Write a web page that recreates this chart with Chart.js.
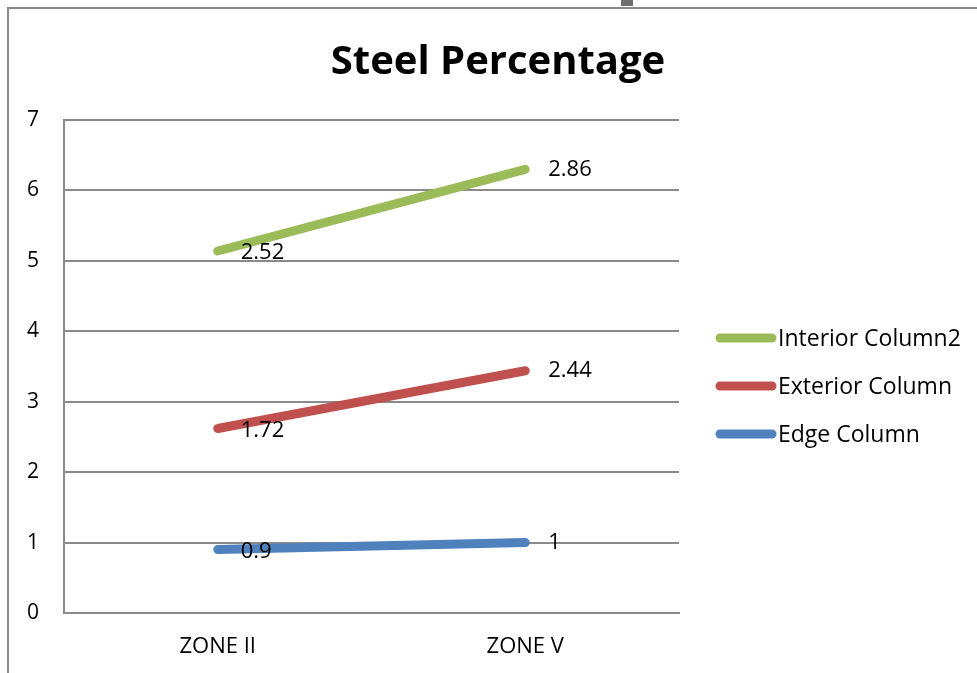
<!DOCTYPE html>
<html>
<head>
<meta charset="utf-8">
<script src="https://cdn.jsdelivr.net/npm/chart.js@4/dist/chart.umd.min.js"></script>
<style>
  html, body { margin: 0; padding: 0; background: #fff; }
  #wrap { position: relative; width: 977px; height: 673px; overflow: hidden; }
  #frame { position: absolute; left: 7px; top: 7px; width: 990px; height: 700px;
           border-left: 2px solid #8a8a8a; border-top: 2px solid #8a8a8a; }
  #mark { position: absolute; left: 621px; top: 0px; width: 12px; height: 6px; background: #6e6e6e; }
  canvas { position: absolute; left: 0; top: 0; }
</style>
</head>
<body>
<div id="wrap">
  <div id="frame"></div>
  <div id="mark"></div>
  <canvas id="c" width="977" height="673"></canvas>
</div>
<script>
const chartTitle = "Steel Percentage";
const categories = ["ZONE II", "ZONE V"];
const seriesNames = ["Edge Column", "Exterior Column", "Interior Column2"];
const edgeColumn = [0.9, 1];
const exteriorColumn = [1.72, 2.44];
const interiorColumn2 = [2.52, 2.86];
const yTicks = [0, 1, 2, 3, 4, 5, 6, 7];
const colors = ["#4F81BD", "#C0504D", "#9BBB59"];

const FONT = "'Open Sans', 'Noto Sans', sans-serif";

const titlePlugin = {
  id: 'titlePlugin',
  afterDraw(chart) {
    const ctx = chart.ctx;
    ctx.save();
    ctx.font = "bold 40px " + FONT;
    ctx.fillStyle = "#000";
    ctx.textAlign = "center";
    ctx.textBaseline = "alphabetic";
    ctx.fillText(chartTitle, 498, 74);
    ctx.restore();
  }
};

const valueLabels = {
  id: 'valueLabels',
  afterDatasetsDraw(chart) {
    const ctx = chart.ctx;
    ctx.save();
    ctx.font = "22px " + FONT;
    ctx.fillStyle = "#000";
    ctx.textAlign = "left";
    ctx.textBaseline = "middle";
    chart.data.datasets.forEach((ds, di) => {
      const meta = chart.getDatasetMeta(di);
      meta.data.forEach((pt, i) => {
        ctx.fillText(String(ds.data[i]), pt.x + 23, pt.y + (i === 0 ? 2 : 0));
      });
    });
    ctx.restore();
  }
};

const sideLegend = {
  id: 'sideLegend',
  afterDraw(chart) {
    const ctx = chart.ctx;
    ctx.save();
    ctx.font = "23px " + FONT;
    ctx.textBaseline = "middle";
    ctx.textAlign = "left";
    const n = chart.data.datasets.length;
    const x0 = 720, x1 = 772, top = 338, step = 48;
    for (let k = 0; k < n; k++) {
      const di = n - 1 - k;
      const ds = chart.data.datasets[di];
      const y = top + k * step;
      ctx.strokeStyle = ds.borderColor;
      ctx.lineWidth = 9;
      ctx.lineCap = "round";
      ctx.beginPath();
      ctx.moveTo(x0, y);
      ctx.lineTo(x1, y);
      ctx.stroke();
      ctx.fillStyle = "#000";
      ctx.fillText(ds.label, 778, y + 1);
    }
    ctx.restore();
  }
};

new Chart(document.getElementById('c'), {
  type: 'line',
  data: {
    labels: categories,
    datasets: [
      { label: seriesNames[0], data: edgeColumn, borderColor: colors[0], backgroundColor: colors[0] },
      { label: seriesNames[1], data: exteriorColumn, borderColor: colors[1], backgroundColor: colors[1] },
      { label: seriesNames[2], data: interiorColumn2, borderColor: colors[2], backgroundColor: colors[2] }
    ].map(d => Object.assign(d, { borderWidth: 9, borderCapStyle: 'round', pointRadius: 0, fill: false, tension: 0 }))
  },
  options: {
    responsive: false,
    animation: false,
    layout: { padding: { left: 20, right: 298, top: 120, bottom: 0 } },
    plugins: {
      legend: { display: false },
      tooltip: { enabled: false },
      title: { display: false }
    },
    scales: {
      x: {
        offset: true,
        grid: { display: false, drawTicks: false },
        border: { display: true, color: "#8a8a8a", width: 2 },
        ticks: { color: "#000", font: { family: FONT, size: 22 }, padding: 21 },
        afterFit(s) { s.height = 60; }
      },
      y: {
        stacked: true,
        min: 0, max: 7,
        afterBuildTicks(s) { s.ticks = yTicks.map(v => ({ value: v })); },
        grid: { color: "#8a8a8a", lineWidth: 2, drawTicks: false },
        border: { display: true, color: "#8a8a8a", width: 2 },
        ticks: { color: "#000", font: { family: FONT, size: 21 }, padding: 25 },
        afterFit(s) { s.width = 44; }
      }
    }
  },
  plugins: [valueLabels, sideLegend, titlePlugin]
});
</script>
</body>
</html>
